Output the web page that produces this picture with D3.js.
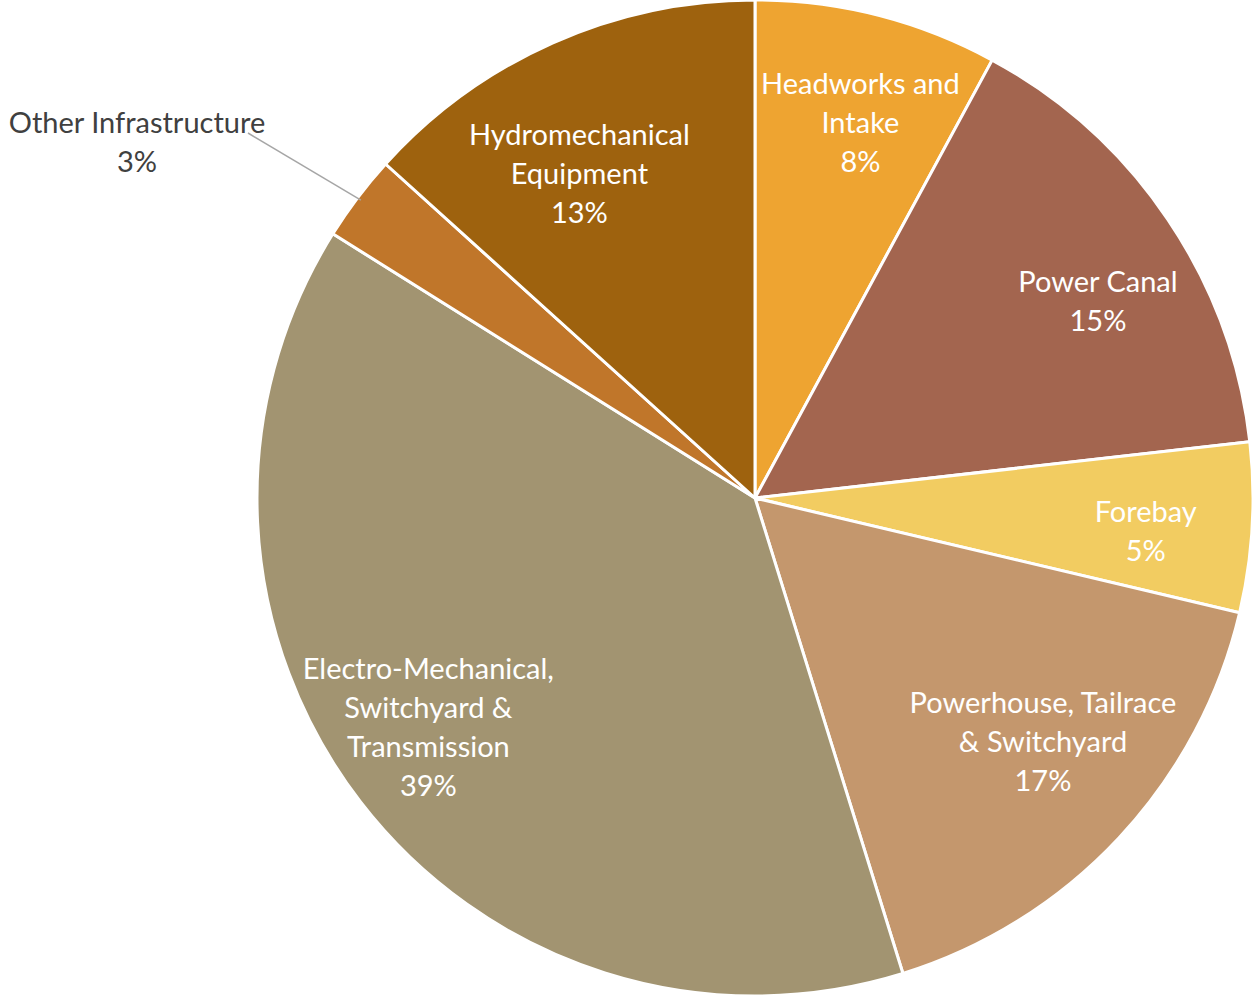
<!DOCTYPE html>
<html>
<head>
<meta charset="utf-8">
<script src="https://cdn.jsdelivr.net/npm/d3@7"></script>
<style>
  body { margin: 0; background: #fff; }
  text { font-family: Lato, "Open Sans", sans-serif; }
</style>
</head>
<body>
<div data-output></div>
<script>
const SIZE = { WIDTH: 1256, HEIGHT: 1000 };

// chart values
const categories = [
  'Headworks and Intake',
  'Power Canal',
  'Forebay',
  'Powerhouse, Tailrace & Switchyard',
  'Electro-Mechanical, Switchyard & Transmission',
  'Other Infrastructure',
  'Hydromechanical Equipment'
];
const shares = [7.9, 15.3, 5.5, 16.5, 38.7, 2.8, 13.3];
const pctLabels = ['8%', '15%', '5%', '17%', '39%', '3%', '13%'];
const labelLines = [
  ['Headworks and', 'Intake'],
  ['Power Canal'],
  ['Forebay'],
  ['Powerhouse, Tailrace', '& Switchyard'],
  ['Electro-Mechanical,', 'Switchyard &', 'Transmission'],
  ['Other Infrastructure'],
  ['Hydromechanical', 'Equipment']
];
const colors = ['#EEA431', '#A3654F', '#F2CC61', '#C4976D', '#A29471', '#C0762A', '#9E620E'];

// small per-label nudges (px) from the arc centroid, like Excel's best fit
const nudges = [[10, 1], [21, 21], [3, 10], [4, -21], [-19, -8], [0, 0], [-18, 31]];

const cx = 755, cy = 498, R = 498;
const lineH = 39;
const fontSize = 29;

const svg = d3.select('[data-output]').append('svg')
  .attr('width', SIZE.WIDTH)
  .attr('height', SIZE.HEIGHT);

const g = svg.append('g').attr('transform', `translate(${cx}, ${cy})`);

const pie = d3.pie().sort(null).value(d => d);
const arcs = pie(shares);

const arc = d3.arc().innerRadius(0).outerRadius(R);
const labelArc = d3.arc().innerRadius(R * 0.78).outerRadius(R * 0.78);

g.selectAll('path.slice')
  .data(arcs)
  .enter().append('path')
  .attr('class', 'slice')
  .attr('d', arc)
  .attr('fill', (d, i) => colors[i])
  .attr('stroke', '#fff')
  .attr('stroke-width', 3)
  .attr('stroke-linejoin', 'round');

// inside labels
arcs.forEach((d, i) => {
  if (categories[i] === 'Other Infrastructure') return;
  const [x0, y0] = labelArc.centroid(d);
  const x = x0 + nudges[i][0], y = y0 + nudges[i][1];
  const lines = [...labelLines[i], pctLabels[i]];
  const top = y - (lines.length - 1) * lineH / 2;
  const t = g.append('text')
    .attr('text-anchor', 'middle')
    .attr('fill', '#fff')
    .attr('font-size', fontSize);
  lines.forEach((l, k) => {
    t.append('tspan')
      .attr('x', x)
      .attr('y', top + k * lineH)
      .attr('dy', '0.35em')
      .text(l);
  });
});

// outside label with leader line for the small slice
const oi = categories.indexOf('Other Infrastructure');
const od = arcs[oi];
const mid = (od.startAngle + od.endAngle) / 2;
const edge = [Math.sin(mid) * (R - 4), -Math.cos(mid) * (R - 4)];
const labelPos = [137 - cx, 142 - cy];
g.append('polyline')
  .attr('points', [edge, [248 - cx, 133 - cy]].map(p => p.join(',')).join(' '))
  .attr('fill', 'none')
  .attr('stroke', '#a6a6a6')
  .attr('stroke-width', 1.5);
const ot = g.append('text')
  .attr('text-anchor', 'middle')
  .attr('fill', '#404040')
  .attr('font-size', fontSize);
[...labelLines[oi], pctLabels[oi]].forEach((l, k) => {
  ot.append('tspan')
    .attr('x', labelPos[0])
    .attr('y', labelPos[1] + (k - 0.5) * lineH)
    .attr('dy', '0.35em')
    .text(l);
});
</script>
</body>
</html>
